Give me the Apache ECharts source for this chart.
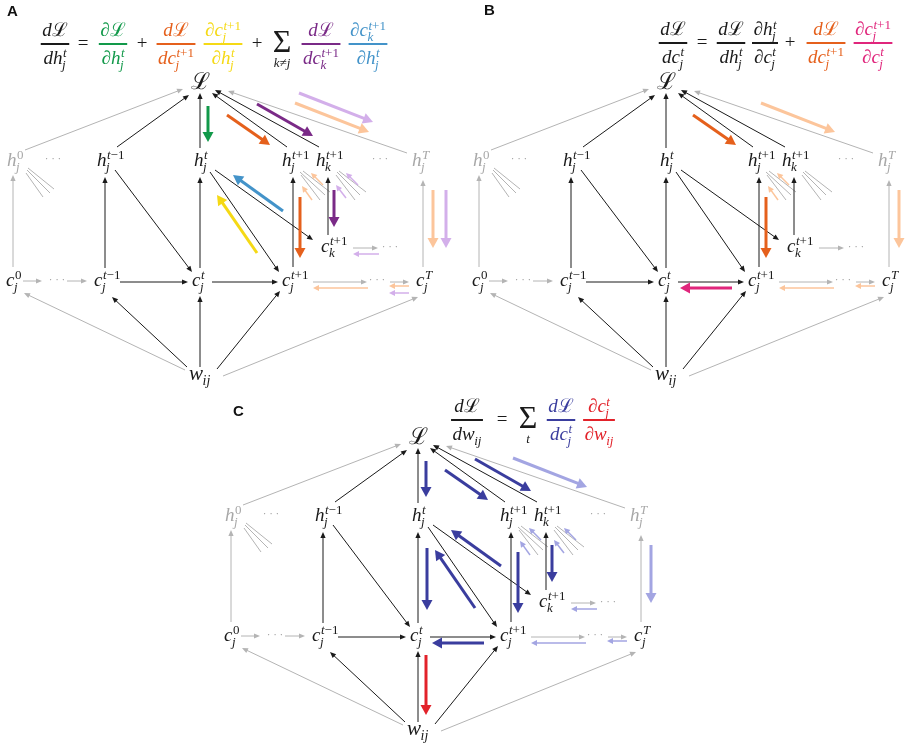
<!DOCTYPE html>
<html>
<head>
<meta charset="utf-8">
<script src="https://cdn.jsdelivr.net/npm/echarts@6/dist/echarts.min.js"></script>
<style>
  html, body { margin: 0; background: #fff; }
  #chart { width: 912px; height: 747px; }
</style>
</head>
<body>
<div id="chart"></div>
<script>
// ---------- diagram data (panel-local units, same layout in A, B and C) ----------
const nodeBase = ["ℒ", "h", "h", "h", "h", "h", "h", "c", "c", "c", "c", "c", "c", "w"];
const nodeSup  = ["", "0", "t−1", "t", "t+1", "t+1", "T", "0", "t−1", "t", "t+1", "t+1", "T", ""];
const nodeSub  = ["", "j", "j", "j", "j", "k", "j", "j", "j", "j", "j", "k", "j", "ij"];
const nodeX    = [191, 7, 97, 194, 282, 316, 412, 6, 94, 192, 282, 321, 416, 189];
const nodeY    = [83, 161, 161, 161, 161, 161, 161, 281, 281, 281, 281, 247, 281, 374];
const nodeFaded = [0, 1, 0, 0, 0, 0, 1, 0, 0, 0, 0, 0, 0, 0];

const dotsX = [53, 380, 57, 377, 390];
const dotsY = [159, 159, 280, 280, 247];

// forward edges [x1, y1, x2, y2]
const forwardEdges = [
  [117, 147, 189, 95], [200, 148, 200, 93], [287, 147, 212, 93], [319, 147, 215, 90],
  [105, 268, 105, 177], [200, 268, 200, 177], [293, 267, 293, 177], [328, 235, 328, 177],
  [115, 170, 192, 272], [210, 172, 279, 272], [215, 170, 313, 240],
  [120, 282, 188, 282], [212, 282, 278, 282],
  [187, 367, 112, 297], [200, 367, 200, 296], [217, 369, 280, 291]
];
const fadedEdges = [
  [25, 150, 183, 89], [407, 153, 228, 91], [13, 267, 13, 175], [423, 267, 423, 180],
  [23, 281, 42, 281], [67, 281, 87, 281], [313, 282, 367, 282], [390, 282, 409, 282],
  [353, 248, 378, 248], [185, 370, 24, 293], [223, 376, 418, 297]
];
// partial links to other units (no heads)
const fanLines = [
  [27, 170, 50, 193], [26, 173, 43, 197], [28, 168, 54, 189],
  [300, 172, 325, 195], [301, 175, 320, 200], [303, 171, 330, 192],
  [337, 172, 360, 195], [336, 175, 355, 200], [339, 171, 366, 192]
];

// gradient arrow slots [x1, y1, x2, y2]
const thickSlots = {
  Lh: [208, 106, 208, 142], Lhj: [227, 115, 270, 145], Lhk: [257, 104, 313, 136],
  LhTa: [299, 93, 373, 122], LhTb: [295, 103, 369, 132],
  ckh: [283, 211, 233, 175], cjh: [257, 253, 217, 195],
  hjc: [300, 197, 300, 258], hkc: [334, 190, 334, 227],
  hTa: [433, 190, 433, 248], hTb: [446, 190, 446, 248],
  cjc: [266, 288, 214, 288], htc: [209, 193, 209, 255], cw: [208, 300, 208, 360]
};
const thinSlots = {
  ccT: [368, 288, 313, 288], cTa: [409, 286, 389, 286], cTb: [409, 293, 389, 293],
  ckd: [379, 254, 353, 254],
  fj1: [312, 200, 302, 186], fj2: [323, 185, 311, 173],
  fk1: [346, 198, 336, 185], fk2: [358, 185, 346, 173]
};

const thickA = [["Lh", "green"], ["Lhj", "orange"], ["Lhk", "purple"], ["LhTa", "lpurple"], ["LhTb", "peach"],
  ["ckh", "blue"], ["cjh", "yellow"], ["hjc", "orange"], ["hkc", "purple"], ["hTa", "peach"], ["hTb", "lpurple"]];
const thinA = [["ccT", "peach"], ["cTa", "peach"], ["cTb", "lpurple"], ["ckd", "lpurple"],
  ["fj1", "peach"], ["fj2", "peach"], ["fk1", "lpurple"], ["fk2", "lpurple"]];
const thickB = [["Lhj", "orange"], ["LhTb", "peach"], ["hjc", "orange"], ["cjc", "magenta"], ["hTa", "peach"]];
const thinB = [["ccT", "peach"], ["cTa", "peach"], ["fj1", "peach"], ["fj2", "peach"]];
const thickC = [["Lh", "navy"], ["Lhj", "navy"], ["Lhk", "navy"], ["LhTb", "lnavy"], ["ckh", "navy"], ["cjh", "navy"],
  ["htc", "navy"], ["hjc", "navy"], ["hkc", "navy"], ["hTa", "lnavy"], ["cjc", "navy"], ["cw", "red"]];
const thinC = [["ccT", "lnavy"], ["cTa", "lnavy"], ["ckd", "lnavy"],
  ["fj1", "lnavy"], ["fj2", "lnavy"], ["fk1", "lnavy"], ["fk2", "lnavy"]];

const COLORS = {
  green: "#12994a", orange: "#e5601c", yellow: "#f5d915", purple: "#7a2a87", blue: "#4393c9",
  lpurple: "#d3afea", peach: "#fcc59b", magenta: "#e0267c", navy: "#3a3d9e", lnavy: "#a3a5e2",
  red: "#e2222a", ink: "#1a1a1a", faded: "#b4b4b4", fadedText: "#a8a8a8"
};

// ---------- math text helpers ----------
const SERIF = '"Liberation Serif", "DejaVu Serif", serif';
const measureCtx = document.createElement("canvas").getContext("2d");
function fontOf(size, italic) {
  return (italic ? "italic " : "") + size + "px " + SERIF;
}
function textWidth(str, font) {
  measureCtx.font = font;
  return measureCtx.measureText(str).width;
}
// letters in italic, everything else upright
function runs(str, size, x, y, color, out) {
  let cur = "", curIt = null;
  const flush = () => {
    if (!cur) return;
    const f = fontOf(size, curIt);
    out.push({ type: "text", x: x, y: y, silent: true,
      style: { text: cur, font: f, fill: color, align: "left", verticalAlign: "middle",
        textAlign: "left", textVerticalAlign: "middle" } });
    x += textWidth(cur, f);
    cur = "";
  };
  for (const ch of str) {
    const it = /[a-zA-Z]/.test(ch);
    if (curIt !== null && it !== curIt) flush();
    curIt = it;
    cur += ch;
  }
  flush();
  return x;
}
// items: [[base, sup, sub], ...]
function term(items, size, color, x, y, out) {
  const s2 = Math.round(size * 0.68);
  for (const [b, sup, sub] of items) {
    x = runs(b, size, x, y, color, out);
    let w = 0;
    if (sup) w = Math.max(w, runs(sup, s2, x + 0.5, y - size * 0.26, color, out) - x);
    if (sub) w = Math.max(w, runs(sub, s2, x - 0.5, y + size * 0.34, color, out) - x);
    x += w;
  }
  return x;
}
function frac(num, den, color, cx, ly, size, out) {
  const wn = term(num, size, color, 0, 0, []);
  const wd = term(den, size, color, 0, 0, []);
  const w = Math.max(wn, wd) + 3;
  term(num, size, color, cx - wn / 2, ly - size * 0.68, out);
  term(den, size, color, cx - wd / 2, ly + size * 0.78, out);
  out.push({ type: "rect", silent: true, shape: { x: cx - w / 2, y: ly - 1, width: w, height: 2 },
    style: { fill: color } });
}
function sym(ch, cx, cy, size, color, out) {
  out.push({ type: "text", x: cx, y: cy, silent: true,
    style: { text: ch, font: fontOf(size, false), fill: color, align: "center", verticalAlign: "middle",
      textAlign: "center", textVerticalAlign: "middle" } });
}
function sigma(cx, ly, under, out) {
  sym("Σ", cx, ly, 32, COLORS.ink, out);
  const w = term([[under, "", ""]], 13, COLORS.ink, 0, 0, []);
  term([[under, "", ""]], 13, COLORS.ink, cx - w / 2, ly + 20, out);
}

// ---------- equations ----------
const EQ = 19;
const dL = [["d", "", ""], ["ℒ", "", ""]];
const pL = [["∂", "", ""], ["ℒ", "", ""]];
const eq = [];
// A
frac(dL, [["d", "", ""], ["h", "t", "j"]], COLORS.ink, 55, 44, EQ, eq);
sym("=", 83, 44, EQ, COLORS.ink, eq);
frac(pL, [["∂", "", ""], ["h", "t", "j"]], COLORS.green, 113, 44, EQ, eq);
sym("+", 142, 44, EQ, COLORS.ink, eq);
frac(dL, [["d", "", ""], ["c", "t+1", "j"]], COLORS.orange, 176, 44, EQ, eq);
frac([["∂", "", ""], ["c", "t+1", "j"]], [["∂", "", ""], ["h", "t", "j"]], COLORS.yellow, 223, 44, EQ, eq);
sym("+", 257, 44, EQ, COLORS.ink, eq);
sigma(282, 44, "k≠j", eq);
frac(dL, [["d", "", ""], ["c", "t+1", "k"]], COLORS.purple, 321, 44, EQ, eq);
frac([["∂", "", ""], ["c", "t+1", "k"]], [["∂", "", ""], ["h", "t", "j"]], COLORS.blue, 368, 44, EQ, eq);
// B
frac(dL, [["d", "", ""], ["c", "t", "j"]], COLORS.ink, 673, 43, EQ, eq);
sym("=", 702, 43, EQ, COLORS.ink, eq);
frac(dL, [["d", "", ""], ["h", "t", "j"]], COLORS.ink, 731, 43, EQ, eq);
frac([["∂", "", ""], ["h", "t", "j"]], [["∂", "", ""], ["c", "t", "j"]], COLORS.ink, 765, 43, EQ, eq);
sym("+", 790, 43, EQ, COLORS.ink, eq);
frac(dL, [["d", "", ""], ["c", "t+1", "j"]], COLORS.orange, 826, 43, EQ, eq);
frac([["∂", "", ""], ["c", "t+1", "j"]], [["∂", "", ""], ["c", "t", "j"]], COLORS.magenta, 873, 43, EQ, eq);
// C
frac(dL, [["d", "", ""], ["w", "", "ij"]], COLORS.ink, 467, 420, EQ, eq);
sym("=", 502, 420, EQ, COLORS.ink, eq);
sigma(528, 420, "t", eq);
frac(dL, [["d", "", ""], ["c", "t", "j"]], COLORS.navy, 561, 420, EQ, eq);
frac([["∂", "", ""], ["c", "t", "j"]], [["∂", "", ""], ["w", "", "ij"]], COLORS.red, 599, 420, EQ, eq);

// panel letters
[["A", 7, 12], ["B", 484, 11], ["C", 233, 412]].forEach(([t, x, y]) => {
  eq.push({ type: "text", x: x, y: y, silent: true,
    style: { text: t, font: 'bold 15px "Liberation Sans", Arial, sans-serif', fill: "#111",
      align: "left", verticalAlign: "middle", textAlign: "left", textVerticalAlign: "middle" } });
});

// ---------- chart ----------
const W = 446, H = 390;
const panels = [{ left: 0, top: 0 }, { left: 466, top: 0 }, { left: 218, top: 355 }];
const panelThick = [thickA, thickB, thickC];
const panelThin = [thinA, thinB, thinC];

const STYLE = {
  fwd: { lw: 1, len: 6, half: 2.6 },
  thick: { lw: 3, len: 10, half: 5.5 },
  thin: { lw: 1.5, len: 6, half: 3 }
};

function arrowShape(p1, p2, color, st, head) {
  if (!head) {
    return [{ type: "line", shape: { x1: p1[0], y1: p1[1], x2: p2[0], y2: p2[1] },
      style: { stroke: color, lineWidth: st.lw } }];
  }
  const dx = p2[0] - p1[0], dy = p2[1] - p1[1];
  const d = Math.hypot(dx, dy);
  const ux = dx / d, uy = dy / d;
  const bx = p2[0] - ux * st.len, by = p2[1] - uy * st.len;
  return [
    { type: "line", shape: { x1: p1[0], y1: p1[1], x2: bx + ux, y2: by + uy },
      style: { stroke: color, lineWidth: st.lw } },
    { type: "polygon", shape: { points: [[p2[0], p2[1]], [bx - uy * st.half, by + ux * st.half],
      [bx + uy * st.half, by - ux * st.half]] }, style: { fill: color } }
  ];
}

function segSeries(gi, segs, colors, st, head) {
  return {
    type: "custom", coordinateSystem: "cartesian2d", xAxisIndex: gi, yAxisIndex: gi,
    silent: true, clip: false, animation: false,
    data: segs,
    encode: { x: [0, 2], y: [1, 3] },
    renderItem: function (params, api) {
      const p1 = api.coord([api.value(0), api.value(1)]);
      const p2 = api.coord([api.value(2), api.value(3)]);
      return { type: "group", children: arrowShape(p1, p2, colors[params.dataIndex], st, head) };
    }
  };
}

function labelSeries(gi) {
  return {
    type: "custom", coordinateSystem: "cartesian2d", xAxisIndex: gi, yAxisIndex: gi,
    silent: true, clip: false, animation: false,
    data: nodeX.map((x, k) => [x, nodeY[k]]),
    renderItem: function (params, api) {
      const k = params.dataIndex;
      const p = api.coord([api.value(0), api.value(1)]);
      const size = nodeBase[k] === "ℒ" ? 23 : nodeBase[k] === "w" ? 21 : 19;
      const out = [];
      term([[nodeBase[k], nodeSup[k], nodeSub[k]]], size, nodeFaded[k] ? COLORS.fadedText : COLORS.ink,
        p[0], p[1], out);
      return { type: "group", children: out };
    }
  };
}

function dotsSeries(gi) {
  return {
    type: "custom", coordinateSystem: "cartesian2d", xAxisIndex: gi, yAxisIndex: gi,
    silent: true, clip: false, animation: false,
    data: dotsX.map((x, k) => [x, dotsY[k]]),
    renderItem: function (params, api) {
      const p = api.coord([api.value(0), api.value(1)]);
      const out = [];
      sym("· · ·", p[0], p[1], 11, "#9a9a9a", out);
      return { type: "group", children: out };
    }
  };
}

const series = [];
panels.forEach((p, gi) => {
  series.push(segSeries(gi, fanLines, fanLines.map(() => COLORS.faded), STYLE.fwd, false));
  series.push(segSeries(gi, fadedEdges, fadedEdges.map(() => COLORS.faded), STYLE.fwd, true));
  series.push(segSeries(gi, forwardEdges, forwardEdges.map(() => COLORS.ink), STYLE.fwd, true));
  const thin = panelThin[gi];
  series.push(segSeries(gi, thin.map(a => thinSlots[a[0]]), thin.map(a => COLORS[a[1]]), STYLE.thin, true));
  const thick = panelThick[gi];
  series.push(segSeries(gi, thick.map(a => thickSlots[a[0]]), thick.map(a => COLORS[a[1]]), STYLE.thick, true));
  series.push(dotsSeries(gi));
  series.push(labelSeries(gi));
});

const chart = echarts.init(document.getElementById("chart"), null, { renderer: "canvas" });
chart.setOption({
  animation: false,
  backgroundColor: "#fff",
  grid: panels.map(p => ({ left: p.left, top: p.top, width: W, height: H, show: false })),
  xAxis: panels.map((p, i) => ({ gridIndex: i, type: "value", min: 0, max: W, show: false })),
  yAxis: panels.map((p, i) => ({ gridIndex: i, type: "value", min: 0, max: H, inverse: true, show: false })),
  graphic: { elements: eq },
  series: series
});
</script>
</body>
</html>
